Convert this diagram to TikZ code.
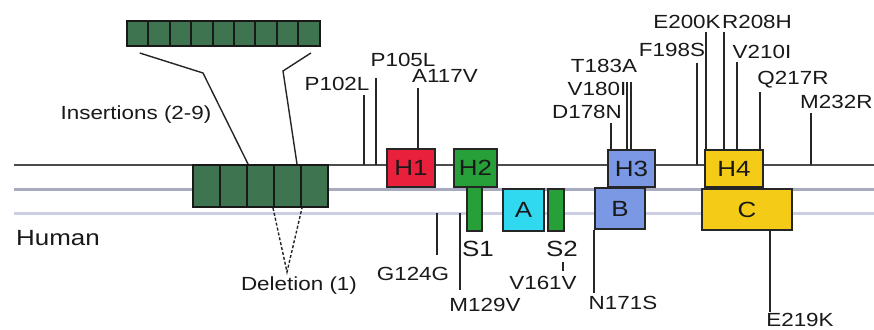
\documentclass[tikz,border=0pt]{standalone}
\usepackage{fontspec}
\setmainfont[FakeStretch=1.18]{Liberation Sans}
\usepackage{xcolor}
\usetikzlibrary{calc}
\definecolor{hred}{RGB}{232,32,60}
\definecolor{hgreen}{RGB}{40,160,58}
\definecolor{hcyan}{RGB}{48,216,240}
\definecolor{hblue}{RGB}{122,152,228}
\definecolor{hyellow}{RGB}{244,204,24}
\definecolor{repgreen}{RGB}{62,116,80}
\definecolor{lineA}{RGB}{168,170,192}
\definecolor{lineB}{RGB}{204,206,228}
\newcommand{\mutfont}{\fontsize{19}{21}\selectfont}
\newcommand{\domfont}{\fontsize{22}{24}\selectfont}

\begin{document}
\begin{tikzpicture}[
  x=1pt, y=-1pt,
  mut/.style={font=\mutfont, text=black!90, inner sep=0pt},
  dom/.style={draw=black!85, line width=1.4pt, inner sep=0pt, font=\domfont, text=black!90},
  rep/.style={draw=black!90, line width=2pt, fill=repgreen, inner sep=0pt},
  tick/.style={line width=1.8pt, black!85},
  lead/.style={line width=1.4pt, black!85}
]
\useasboundingbox (0,0) rectangle (874,329);
\fill[white] (0,0) rectangle (874,329);

% backbone lines
\coordinate (bb) at (14,165);
\coordinate (mid) at (14,189);
\coordinate (lo) at (14,213);
\draw[line width=1.3pt, black!70] (bb) -- (874,165);
\draw[line width=3pt, lineA] (mid) -- (874,189);
\draw[line width=3pt, lineB] (lo) -- (874,213);

% domains
\node[dom, fill=hred, minimum width=48pt, minimum height=38pt] (H1) at (411,168) {H1};
\node[dom, fill=hgreen, minimum width=43pt, minimum height=38pt] (H2) at (475.5,168) {H2};
\node[dom, fill=hgreen, minimum width=15pt, minimum height=44pt] (S1) at (474.5,209) {};
\node[dom, fill=hcyan, minimum width=41pt, minimum height=42pt] (A) at (523.5,210) {A};
\node[dom, fill=hgreen, minimum width=16pt, minimum height=42pt] (S2) at (556,210) {};
\node[dom, fill=hblue, minimum width=47pt, minimum height=37pt] (H3) at (631.5,168.5) {H3};
\node[dom, fill=hblue, minimum width=50pt, minimum height=41pt] (B) at (620,208.5) {B};
\node[dom, fill=hyellow, minimum width=58pt, minimum height=37pt] (H4) at (734,168.5) {H4};
\node[dom, fill=hyellow, minimum width=90pt, minimum height=41pt] (C) at (747,209.5) {C};
\node[font=\domfont, text=black!90] (S1lbl) at (478,249) {S1};
\node[font=\domfont, text=black!90] (S2lbl) at (562,249) {S2};

% repeats
\foreach \i in {1,...,9}
  \node[rep, minimum width=21.4pt, minimum height=25pt] (ins\i) at ({127+21.4*(\i-0.5)},33.5) {};
\foreach \i in {1,...,5}
  \node[rep, minimum width=27pt, minimum height=42pt] (rep\i) at ({193+27*(\i-0.5)},186) {};

\coordinate (lbend) at (203,73);
\coordinate (rbend) at (283,71);
\coordinate (delpt) at (287,272);
\draw[lead] ([shift={(2,6)}]ins1.south) -- (lbend) -- (rep2.north east);
\draw[lead] ([shift={(2,6)}]ins9.south) -- (rbend) -- ([xshift=-5]rep4.north east);
\draw[lead, dash pattern=on 3pt off 2pt] (rep4.south west) -- (delpt) -- (rep4.south east);

\node[mut] (inslbl) at (136,115) {Insertions (2-9)};
\node[mut] (dellbl) at (299,286) {Deletion (1)};
\node[font=\domfont, text=black!90] (human) at (58,238) {Human};

% mutations above
\node[mut] (P102L) at (337,84) {P102L};
\node[mut] (P105L) at (403,60) {P105L};
\node[mut] (A117V) at (445,76) {A117V};
\node[mut] (D178N) at (587,112) {D178N};
\node[mut] (V180I) at (597,89) {V180I};
\node[mut] (T183A) at (604,66) {T183A};
\node[mut] (F198S) at (672,50) {F198S};
\node[mut] (E200K) at (687,22) {E200K};
\node[mut] (R208H) at (757,22) {R208H};
\node[mut] (V210I) at (762,52) {V210I};
\node[mut] (Q217R) at (793,80) {Q217R};
\node[mut, anchor=west] (M232R) at (800,102) {M232R};

\coordinate (p102) at (364,95);
\coordinate (p105) at (376,78);
\coordinate (a117) at (418,88);
\coordinate (d178) at (611,123);
\coordinate (v180) at (627,82);
\coordinate (t183) at (631,82);
\coordinate (f198) at (697,63);
\coordinate (e200) at (706,32);
\coordinate (r208) at (724,32);
\coordinate (v210) at (737,62);
\coordinate (q217) at (760,92);
\coordinate (m232) at (811,113);
\draw[tick] (p102) -- (p102 |- bb);
\draw[tick] (p105) -- (p105 |- bb);
\draw[tick] (a117) -- (a117 |- H1.north);
\draw[tick] (d178) -- (d178 |- H3.north);
\draw[tick] (v180) -- (v180 |- H3.north);
\draw[tick] (t183) -- (t183 |- H3.north);
\draw[tick] (f198) -- (f198 |- bb);
\draw[tick] (e200) -- (e200 |- H4.north);
\draw[tick] (r208) -- (r208 |- H4.north);
\draw[tick] (v210) -- (v210 |- H4.north);
\draw[tick] (q217) -- (q217 |- H4.north);
\draw[tick] (m232) -- (m232 |- bb);

% mutations below
\node[mut] (G124G) at (413,274) {G124G};
\node[mut] (M129V) at (485,305) {M129V};
\node[mut] (V161V) at (543,283) {V161V};
\node[mut] (N171S) at (623,303) {N171S};
\node[mut] (E219K) at (800,320) {E219K};

\coordinate (g124) at (437,255);
\coordinate (m129) at (460,290);
\coordinate (v161) at (563,271);
\coordinate (n171) at (594,293);
\coordinate (e219) at (770,312);
\draw[tick] (g124 |- lo) -- (g124);
\draw[tick] (m129 |- lo) -- (m129);
\draw[tick] (v161) -- ++(0,-9);
\draw[tick] (n171 |- B.south) -- (n171);
\draw[tick] (e219 |- C.south) -- (e219);
\end{tikzpicture}
\end{document}
